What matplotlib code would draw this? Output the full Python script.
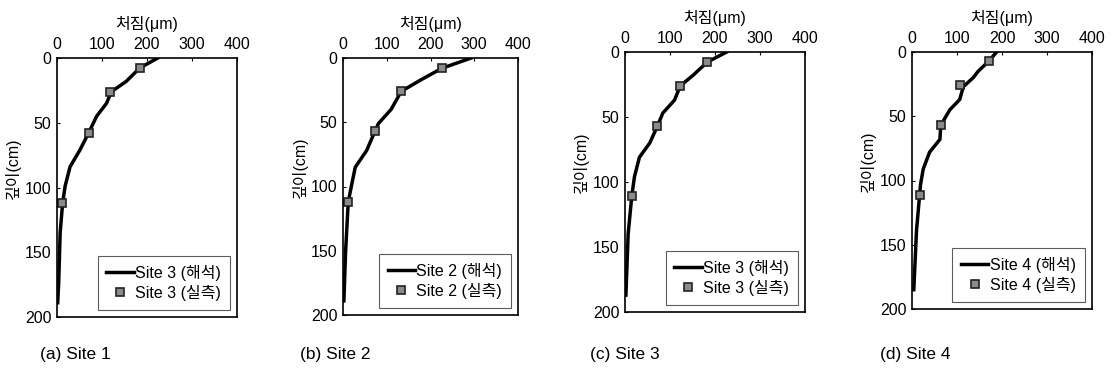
import matplotlib
matplotlib.use("Agg")
import matplotlib.pyplot as plt

plt.rcParams["font.family"] = ["Liberation Sans", "Noto Sans CJK KR", "DejaVu Sans"]

# analysis curves (settlement um, depth cm)
site1_line_x = [224, 184, 154, 121, 110, 88, 70, 51, 29, 18, 12.5, 7, 3.7, 1.5]
site1_line_y = [0, 7.7, 18, 26, 35, 45, 58, 71, 84, 99, 112, 135, 174, 189]
site2_line_x = [293, 226, 178, 133, 110, 81, 73, 54, 28, 19, 12, 6, 2]
site2_line_y = [0, 8, 17, 26, 40, 51, 57, 72, 85, 100, 112, 150, 189]
site3_line_x = [226, 183, 151, 123, 110, 84, 72, 55, 32, 21, 15, 7, 2]
site3_line_y = [0, 7.7, 18, 26, 37, 47, 57, 70, 81, 96, 111, 140, 187]
site4_line_x = [188, 171, 147, 136, 114, 106, 84, 64, 62, 39, 25, 19, 17, 10, 4]
site4_line_y = [0, 7, 15, 20, 27, 37, 45, 57, 68, 78, 91, 103, 111, 139, 185]

# measured points
site1_pts_x = [184, 118, 70, 12]
site1_pts_y = [8, 26, 58, 112]
site2_pts_x = [226, 133, 73, 12]
site2_pts_y = [8, 26, 57, 112]
site3_pts_x = [183, 123, 72, 15]
site3_pts_y = [7.7, 26, 57, 111]
site4_pts_x = [171, 106, 64, 17]
site4_pts_y = [7, 26, 57, 111]

legend_names = ["Site 3", "Site 2", "Site 3", "Site 4"]
captions = ["(a) Site 1", "(b) Site 2", "(c) Site 3", "(d) Site 4"]

lines = [(site1_line_x, site1_line_y), (site2_line_x, site2_line_y),
         (site3_line_x, site3_line_y), (site4_line_x, site4_line_y)]
points = [(site1_pts_x, site1_pts_y), (site2_pts_x, site2_pts_y),
          (site3_pts_x, site3_pts_y), (site4_pts_x, site4_pts_y)]

# axes boxes in pixels: left, right, top, bottom
boxes = [(57, 237, 58, 317), (343, 518, 58, 315), (625, 805, 52, 312), (912, 1092, 52, 309)]
caption_x = [75, 335, 625, 915]

W, H = 1115, 380
fig = plt.figure(figsize=(W / 100, H / 100), dpi=100)

for i in range(4):
    l, r, t, b = boxes[i]
    ax = fig.add_axes([l / W, (H - b) / H, (r - l) / W, (b - t) / H])
    lx, ly = lines[i]
    px, py = points[i]
    ax.plot(lx, ly, color="black", lw=2.5, label=legend_names[i] + " (해석)")
    ax.plot(px, py, ls="none", marker="s", ms=5.5, mfc="#8a8a8a", mec="#222222",
            mew=1.2, label=legend_names[i] + " (실측)")
    ax.set_xlim(0, 400)
    ax.set_ylim(200, 0)
    ax.set_xticks([0, 100, 200, 300, 400])
    ax.set_yticks([0, 50, 100, 150, 200])
    ax.xaxis.tick_top()
    ax.xaxis.set_label_position("top")
    ax.tick_params(direction="in", length=2, labelsize=11.5, pad=4)
    ax.set_xlabel("처짐(μm)", fontsize=11.5, labelpad=6)
    ax.set_ylabel("깊이(cm)", fontsize=11.5)
    ax.yaxis.set_label_coords(-0.2, 0.575)
    for s in ax.spines.values():
        s.set_linewidth(1.2)
    leg = ax.legend(loc="lower right", fontsize=11.5, frameon=True, fancybox=False,
                    edgecolor="#333333", handlelength=1.7, handletextpad=0.1,
                    borderaxespad=0.45, labelspacing=0.25, borderpad=0.55)
    leg.get_frame().set_linewidth(0.8)
    fig.text(caption_x[i] / W, 1 - 355 / H, captions[i], ha="center", va="center",
             fontsize=12.5, family=["Liberation Sans Narrow", "Liberation Sans"])

fig.savefig("out.png", dpi=100)
